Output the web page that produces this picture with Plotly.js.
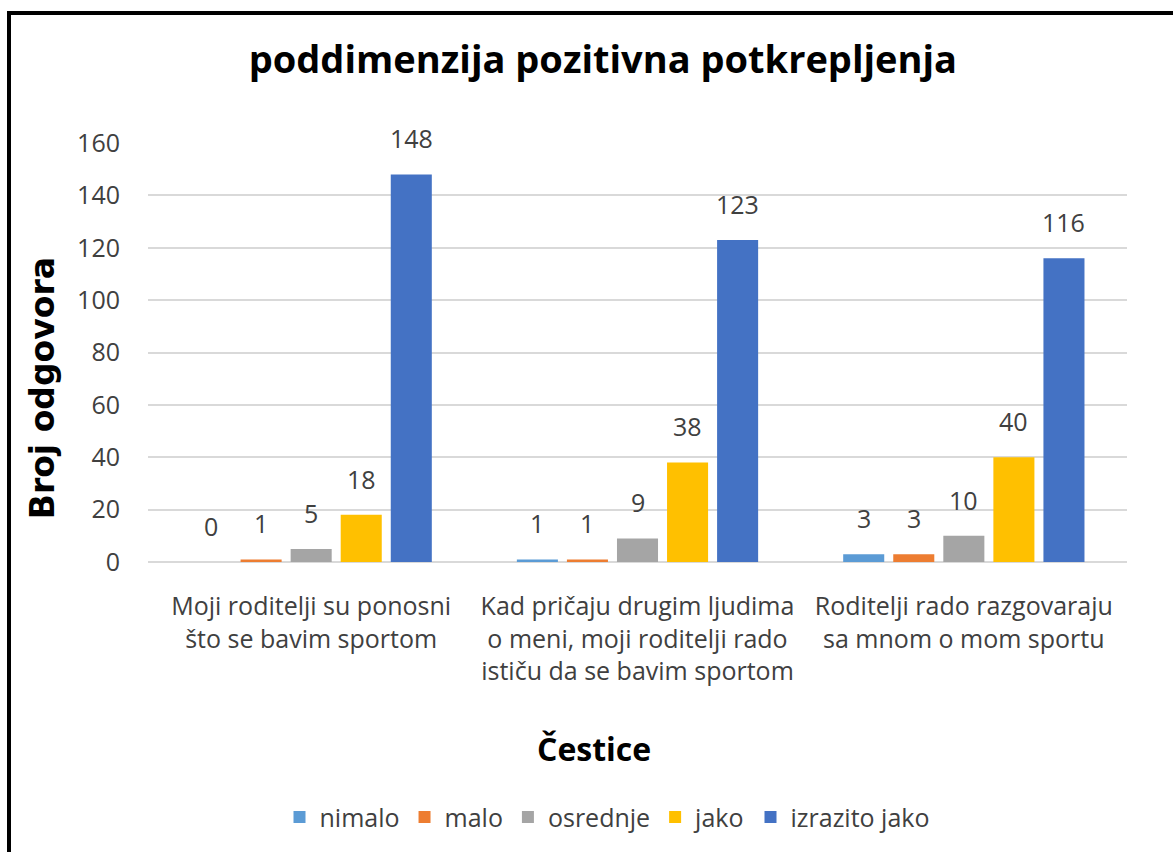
<!DOCTYPE html>
<html>
<head>
<meta charset="utf-8">
<script src="https://cdn.plot.ly/plotly-3.0.1.min.js"></script>
<style>
  body { margin: 0; background: #fff; }
  #frame { position: absolute; left: 7px; top: 11px; width: 1200px; height: 900px;
           border-top: 4px solid #000; border-left: 4px solid #000; box-sizing: border-box; }
  #graph { position: absolute; left: 0; top: 0; width: 1173px; height: 852px; }
</style>
</head>
<body>
<div id="graph"></div>
<div id="frame"></div>
<script>
// categories (x axis)
const items = [
    'Moji roditelji su ponosni<br>što se bavim sportom',
    'Kad pričaju drugim ljudima<br>o meni, moji roditelji rado<br>ističu da se bavim sportom',
    'Roditelji rado razgovaraju<br>sa mnom o mom sportu'
];

// series
const seriesNames = ['nimalo', 'malo', 'osrednje', 'jako', 'izrazito jako'];
const nimalo = [0, 1, 3];
const malo = [1, 1, 3];
const osrednje = [5, 9, 10];
const jako = [18, 38, 40];
const izrazitoJako = [148, 123, 116];
const colors = ['#5B9BD5', '#ED7D31', '#A5A5A5', '#FFC000', '#4472C4'];

const font = '"Open Sans", sans-serif';
const values = [nimalo, malo, osrednje, jako, izrazitoJako];

const bargap = 0.233;
const plotW = 1173 - 148 - 46;
const pitch = (plotW / items.length) * (1 - bargap) / values.length;

const traces = values.map(function(v, i) {
    return {
        type: 'bar',
        name: seriesNames[i],
        x: items,
        y: v,
        marker: { color: colors[i] }
    };
});

// value labels above the bars
const labels = [];
values.forEach(function(v, i) {
    v.forEach(function(val, j) {
        labels.push({
            x: items[j], y: val, xref: 'x', yref: 'y',
            text: String(val), showarrow: false,
            xshift: (i - (values.length - 1) / 2) * pitch,
            yshift: 36, yanchor: 'middle',
            font: { family: font, size: 25, color: '#404040' }
        });
    });
});

const layout = {
    width: 1173,
    height: 852,
    margin: { l: 148, r: 46, t: 143, b: 287 },
    paper_bgcolor: '#fff',
    plot_bgcolor: '#fff',
    font: { family: font, color: '#404040' },
    title: {
        text: '<b>poddimenzija pozitivna potkrepljenja</b>',
        font: { family: font, size: 38, color: '#000' },
        x: 0.514, xanchor: 'center',
        y: 0.93, yanchor: 'middle'
    },
    barmode: 'group',
    bargap: bargap,
    bargroupgap: 0.18,
    xaxis: {
        tickfont: { family: font, size: 25, color: '#404040' },
        showgrid: false,
        showline: false,
        ticks: 'outside', ticklen: 22, tickcolor: 'rgba(0,0,0,0)'
    },
    yaxis: {
        range: [0, 160],
        dtick: 20,
        showgrid: true,
        gridcolor: '#d9d9d9',
        gridwidth: 1.5,
        zeroline: true,
        zerolinecolor: '#d9d9d9',
        zerolinewidth: 1.5,
        tickfont: { family: font, size: 25, color: '#404040' },
        ticks: 'outside', ticklen: 22, tickcolor: 'rgba(0,0,0,0)'
    },
    annotations: labels.concat([
        {
            text: '<b>Broj odgovora</b>',
            xref: 'paper', yref: 'paper',
            x: (42 - 148) / plotW, y: (565 - 390) / 422,
            xanchor: 'center', yanchor: 'middle',
            textangle: -90, showarrow: false,
            font: { family: '"DejaVu Sans", sans-serif', size: 33, color: '#000' }
        },
        {
            text: '<b>Čestice</b>',
            xref: 'paper', yref: 'paper',
            x: (594 - 148) / plotW, y: (565 - 753) / 422,
            xanchor: 'center', yanchor: 'middle',
            showarrow: false,
            font: { family: font, size: 32, color: '#000' }
        }
    ]),
    showlegend: true,
    legend: {
        orientation: 'h',
        x: (607 - 148) / plotW, xanchor: 'center',
        y: (565 - 822) / 422, yanchor: 'middle',
        font: { family: font, size: 25, color: '#404040' },
        itemwidth: 30
    }
};

Plotly.newPlot('graph', traces, layout, { displayModeBar: false });
</script>
</body>
</html>
